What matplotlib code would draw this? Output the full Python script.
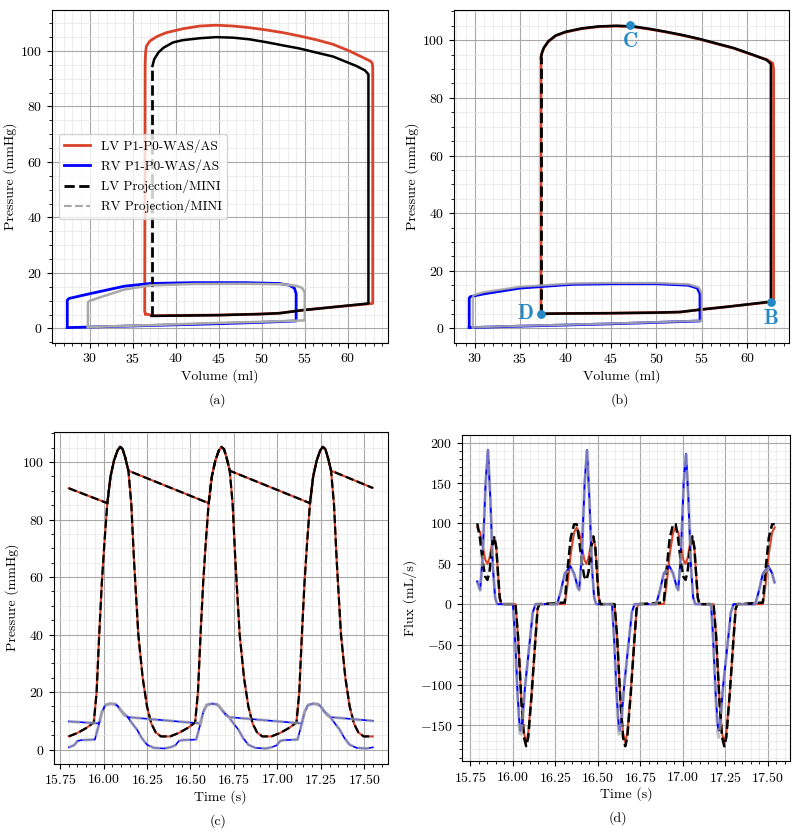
import matplotlib
matplotlib.use('Agg')
import matplotlib.pyplot as plt
from matplotlib.lines import Line2D
from matplotlib.ticker import AutoMinorLocator, MultipleLocator

plt.rcParams['font.family'] = 'serif'
plt.rcParams['font.serif'] = ['cmr10']
plt.rcParams['mathtext.fontset'] = 'cm'
plt.rcParams['axes.formatter.use_mathtext'] = True
plt.rcParams['font.size'] = 10

RED = '#d8432a'
BLUE = '#0000ff'
GRAY = '#a9a9a9'
MARK = '#2389c5'

# ---- (a) PV loops ------------------------------------------------------------
lv_p1_vol_a = [36.5, 37.5, 40.0, 45.0, 50.0, 52.1, 54.8, 58.0, 62.9, 62.9, 62.85, 62.7, 62.2, 60.2, 58.3,
               56.4, 54.4, 52.5, 50.5, 48.6, 46.7, 44.7, 42.8, 40.8, 38.9, 37.8, 37.0, 36.6, 36.5,
               36.45, 36.4, 36.5]
lv_p1_pres_a = [5.2, 4.6, 4.7, 4.8, 5.2, 5.5, 6.6, 7.6, 9.0, 94.0, 95.5, 96.2, 97.0, 100.0, 102.4,
                104.0, 105.4, 106.6, 107.6, 108.4, 109.0, 109.3, 109.0, 108.0, 106.6, 105.2, 103.6, 101.8, 99.5,
                95.0, 6.0, 5.2]
lv_mini_vol_a = [37.3, 37.3, 37.5, 38.0, 38.6, 39.7, 40.8, 42.8, 44.7, 46.7, 48.6, 50.5, 52.5, 54.4,
                 56.4, 58.3, 61.0, 62.0, 62.4, 62.4, 58.0, 54.8, 52.1, 50.0, 45.0, 40.0, 37.2]
lv_mini_pres_a = [4.5, 94.6, 97.0, 99.5, 101.2, 103.1, 103.9, 104.6, 105.0, 104.8, 104.2, 103.2, 102.0, 100.9,
                  99.4, 98.0, 94.6, 93.0, 91.6, 9.0, 7.6, 6.6, 5.5, 5.2, 4.8, 4.6, 4.5]
rv_p1_vol_a = [27.4, 30.0, 35.0, 40.0, 45.0, 50.0, 54.0, 54.0, 53.8, 53.2, 52.0, 48.0, 42.0, 37.0,
               34.0, 30.0, 27.6, 27.4, 27.4]
rv_p1_pres_a = [0.3, 0.5, 0.9, 1.3, 1.7, 2.2, 2.7, 12.5, 14.5, 15.6, 16.2, 16.5, 16.5, 16.2,
                15.2, 12.5, 10.8, 10.2, 0.3]
rv_mini_vol_a = [29.8, 35.0, 40.0, 45.0, 50.0, 55.0, 55.0, 54.7, 54.0, 52.5, 48.0, 42.0, 37.0, 34.0,
                 31.0, 29.9, 29.8, 29.8]
rv_mini_pres_a = [0.5, 1.0, 1.5, 2.0, 2.4, 2.9, 13.0, 14.6, 15.4, 15.9, 16.1, 16.0, 15.5, 14.0,
                  11.0, 9.8, 9.3, 0.5]

# ---- (b) PV loops ------------------------------------------------------------
lv_p1_vol_b = [37.3, 40.0, 45.0, 50.0, 52.6, 55.0, 58.0, 62.9, 62.9, 62.8, 62.2, 60.4, 58.5, 56.7,
               54.8, 53.0, 51.1, 49.3, 47.4, 45.6, 43.7, 41.8, 40.0, 38.9, 38.1, 37.6, 37.4, 37.3, 37.3]
lv_p1_pres_b = [5.1, 5.2, 5.3, 5.5, 5.7, 6.6, 7.6, 9.3, 90.0, 92.0, 93.2, 95.1, 97.2, 98.7,
                100.3, 101.6, 102.8, 103.8, 104.7, 104.9, 104.7, 104.0, 102.8, 101.5, 99.5, 97.2, 95.5, 94.0, 5.1]
lv_mini_vol_b = [37.3, 37.3, 37.4, 37.6, 38.1, 38.9, 40.0, 41.8, 43.7, 45.6, 47.4, 49.3, 51.1, 53.0,
                 54.8, 56.7, 58.5, 60.4, 62.1, 62.6, 62.6, 58.0, 55.0, 52.6, 50.0, 45.0, 40.0, 37.3]
lv_mini_pres_b = [5.1, 94.0, 95.6, 97.3, 99.6, 101.6, 102.9, 104.1, 104.8, 105.0, 104.8, 103.9, 102.9, 101.7,
                  100.4, 98.8, 97.3, 95.2, 93.2, 91.8, 9.3, 7.6, 6.6, 5.7, 5.5, 5.3, 5.2, 5.1]
rv_p1_vol_b = [29.4, 35.0, 40.0, 45.0, 50.0, 54.8, 54.8, 54.5, 53.5, 50.0, 45.0, 40.7, 35.0, 31.0,
               29.5, 29.4, 29.4]
rv_p1_pres_b = [0.3, 0.8, 1.2, 1.6, 2.1, 2.6, 12.0, 14.0, 15.0, 15.5, 15.5, 15.3, 14.0, 12.0,
                11.0, 10.5, 0.3]
rv_mini_vol_b = [29.8, 35.0, 40.0, 45.0, 50.0, 55.0, 55.0, 54.7, 53.6, 50.0, 45.0, 40.7, 35.0, 31.0,
                 29.9, 29.8, 29.8]
rv_mini_pres_b = [0.4, 0.9, 1.3, 1.7, 2.2, 2.7, 12.0, 14.2, 15.3, 15.8, 15.8, 15.6, 14.5, 12.6,
                  11.6, 11.0, 0.4]
point_labels = ['B', 'C', 'D']
point_vol = [62.6, 47.1, 37.3]
point_pres = [9.3, 105.2, 5.1]

# ---- (c) pressures over time --------------------------------------------------
t_lv_c = [15.800, 15.850, 15.900, 15.930, 15.944, 15.960, 15.975, 15.990, 16.005, 16.022, 16.040, 16.060,
          16.080, 16.095, 16.110, 16.125, 16.143, 16.160, 16.175, 16.200, 16.225, 16.250, 16.275, 16.300, 16.330,
          16.383, 16.433, 16.483, 16.513, 16.527, 16.543, 16.558, 16.573, 16.588, 16.605, 16.623, 16.643,
          16.663, 16.678, 16.693, 16.708, 16.726, 16.743, 16.758, 16.783, 16.808, 16.833, 16.858, 16.883, 16.913,
          16.966, 17.016, 17.066, 17.096, 17.110, 17.126, 17.141, 17.156, 17.171, 17.188, 17.206, 17.226,
          17.246, 17.261, 17.276, 17.291, 17.309, 17.326, 17.341, 17.366, 17.391, 17.416, 17.441, 17.466, 17.496,
          17.549]
p_lv_c = [4.6, 5.8, 7.5, 8.8, 9.5, 20, 40, 58, 72, 86, 95, 100.5,
          104, 105.3, 104.5, 101.5, 97, 85, 66, 40, 25, 15, 9, 6, 4.6,
          4.6, 5.8, 7.5, 8.8, 9.5, 20, 40, 58, 72, 86, 95, 100.5,
          104, 105.3, 104.5, 101.5, 97, 85, 66, 40, 25, 15, 9, 6, 4.6,
          4.6, 5.8, 7.5, 8.8, 9.5, 20, 40, 58, 72, 86, 95, 100.5,
          104, 105.3, 104.5, 101.5, 97, 85, 66, 40, 25, 15, 9, 6, 4.6,
          4.6]
t_ao_c = [15.800, 16.022, 16.040, 16.060, 16.080, 16.095, 16.110, 16.125, 16.143,
          16.605, 16.623, 16.643, 16.663, 16.678, 16.693, 16.708, 16.726,
          17.188, 17.206, 17.226, 17.246, 17.261, 17.276, 17.291, 17.309, 17.549]
p_ao_c = [90.9, 85.7, 95, 100.5, 104, 105.3, 104.5, 101.5, 97,
          85.7, 95, 100.5, 104, 105.3, 104.5, 101.5, 97,
          85.7, 95, 100.5, 104, 105.3, 104.5, 101.5, 97, 91.0]
t_rv_c = [15.800, 15.830, 15.850, 15.870, 15.950, 15.970, 15.990, 16.010, 16.040, 16.070, 16.090, 16.110,
          16.135, 16.160, 16.193, 16.220, 16.250, 16.290, 16.350,
          16.383, 16.413, 16.433, 16.453, 16.533, 16.553, 16.573, 16.593, 16.623, 16.653, 16.673, 16.693,
          16.718, 16.743, 16.776, 16.803, 16.833, 16.873, 16.933,
          16.966, 16.996, 17.016, 17.036, 17.116, 17.136, 17.156, 17.176, 17.206, 17.236, 17.256, 17.276,
          17.301, 17.326, 17.359, 17.386, 17.416, 17.456, 17.516, 17.549]
p_rv_c = [0.8, 1.5, 3.0, 3.3, 3.5, 8, 13, 15.5, 16, 15.8, 14.5, 13,
          11.6, 9.5, 6.9, 4, 1.7, 0.6, 0.4,
          0.8, 1.5, 3.0, 3.3, 3.5, 8, 13, 15.5, 16, 15.8, 14.5, 13,
          11.6, 9.5, 6.9, 4, 1.7, 0.6, 0.4,
          0.8, 1.5, 3.0, 3.3, 3.5, 8, 13, 15.5, 16, 15.8, 14.5, 13,
          11.6, 9.5, 6.9, 4, 1.7, 0.6, 0.4, 0.8]
t_pa_c = [15.800, 15.975, 15.990, 16.010, 16.040, 16.060, 16.080, 16.100, 16.120, 16.140,
          16.558, 16.573, 16.593, 16.623, 16.643, 16.663, 16.683, 16.703, 16.723,
          17.141, 17.156, 17.176, 17.206, 17.226, 17.246, 17.266, 17.286, 17.306, 17.549]
p_pa_c = [9.8, 9.1, 13, 15.5, 16, 15.8, 15.3, 13.5, 12, 11.3,
          9.1, 13, 15.5, 16, 15.8, 15.3, 13.5, 12, 11.3,
          9.1, 13, 15.5, 16, 15.8, 15.3, 13.5, 12, 11.3, 10.0]

# ---- (d) flux over time -------------------------------------------------------
t_lv_d = [15.790, 15.807, 15.822, 15.837, 15.850, 15.862, 15.877, 15.890, 15.902, 15.912, 15.922, 15.932,
          16.015, 16.030, 16.050, 16.065, 16.078, 16.090, 16.110, 16.130, 16.145, 16.155,
          16.305, 16.320, 16.340, 16.360, 16.375, 16.390, 16.405, 16.420, 16.433, 16.445, 16.460, 16.473,
          16.485, 16.495, 16.505, 16.515, 16.598, 16.613, 16.633, 16.648, 16.661, 16.673, 16.693, 16.713,
          16.728, 16.738,
          16.888, 16.903, 16.923, 16.943, 16.958, 16.973, 16.988, 17.003, 17.016, 17.028, 17.043, 17.056,
          17.068, 17.078, 17.088, 17.098, 17.181, 17.196, 17.216, 17.231, 17.244, 17.256, 17.276, 17.296,
          17.311, 17.321,
          17.471, 17.486, 17.506, 17.526, 17.541]
q_lv_p1 = [95, 89, 72, 55, 50, 57, 76, 83, 70, 38, 8, 0,
           0, -40, -120, -160, -171, -160, -110, -50, -6, 0,
           0, 22, 62, 89, 95, 89, 72, 55, 50, 57, 76, 83,
           70, 38, 8, 0, 0, -40, -120, -160, -171, -160, -110, -50,
           -6, 0,
           0, 22, 62, 89, 95, 89, 72, 55, 50, 57, 76, 83,
           70, 38, 8, 0, 0, -40, -120, -160, -171, -160, -110, -50,
           -6, 0,
           0, 22, 62, 89, 95]
q_lv_mini = [100, 80, 52, 34, 30, 40, 70, 84, 70, 38, 8, 0,
             0, -40, -122, -165, -176, -165, -112, -50, -6, 0,
             2, 40, 82, 99, 99, 80, 52, 34, 30, 40, 70, 84,
             70, 38, 8, 0, 0, -40, -122, -165, -176, -165, -112, -50,
             -6, 0,
             2, 40, 82, 99, 99, 80, 52, 34, 30, 40, 70, 84,
             70, 38, 8, 0, 0, -40, -122, -165, -176, -165, -112, -50,
             -6, 0,
             2, 40, 82, 99, 99]
t_rv_d = [15.790, 15.807, 15.822, 15.839, 15.853, 15.867, 15.882, 15.895, 15.907, 16.000, 16.012, 16.027,
          16.039, 16.045, 16.055, 16.072, 16.097, 16.117, 16.133,
          16.260, 16.280, 16.305, 16.338, 16.360, 16.380, 16.390, 16.405, 16.422, 16.436, 16.450, 16.465,
          16.478, 16.490, 16.583, 16.595, 16.610, 16.622, 16.628, 16.638, 16.655, 16.680, 16.700, 16.716,
          16.843, 16.863, 16.888, 16.921, 16.943, 16.963, 16.973, 16.988, 17.005, 17.019, 17.033, 17.048,
          17.061, 17.073, 17.166, 17.178, 17.193, 17.205, 17.211, 17.221, 17.238, 17.263, 17.283, 17.299,
          17.426, 17.446, 17.471, 17.504, 17.526, 17.540]
q_rv_p1 = [28, 18, 60, 150, 191, 130, 45, 8, 0, 0, -40, -110,
           -150, -157, -145, -100, -50, -10, 0,
           0, 15, 38, 47, 38, 22, 18, 60, 150, 191, 130, 45,
           8, 0, 0, -40, -110, -150, -157, -145, -100, -50, -10, 0,
           0, 15, 38, 47, 38, 22, 18, 60, 150, 186, 130, 45,
           8, 0, 0, -40, -110, -150, -157, -145, -100, -50, -10, 0,
           0, 15, 38, 47, 38, 27]
q_rv_mini = [27, 17, 58, 148, 190, 132, 47, 9, 0, 0, -42, -115,
             -158, -165, -150, -102, -50, -10, 0,
             0, 14, 37, 45, 37, 21, 17, 58, 148, 190, 132, 47,
             9, 0, 0, -42, -115, -158, -165, -150, -102, -50, -10, 0,
             0, 14, 37, 45, 37, 21, 17, 58, 148, 188, 132, 47,
             9, 0, 0, -42, -115, -158, -165, -150, -102, -50, -10, 0,
             0, 14, 37, 45, 37, 26]


def style(ax):
    ax.xaxis.set_minor_locator(AutoMinorLocator())
    ax.yaxis.set_minor_locator(AutoMinorLocator())
    ax.grid(which='major', color='#a8a8a8', lw=0.8)
    ax.grid(which='minor', color='#e6e6e6', lw=0.5)
    ax.set_axisbelow(True)


fig = plt.figure(figsize=(8, 8.4), dpi=100)
ax_a = fig.add_axes([0.065, 0.592, 0.42, 0.396])
ax_b = fig.add_axes([0.5675, 0.592, 0.4185, 0.396])
ax_c = fig.add_axes([0.067, 0.091, 0.418, 0.395])
ax_d = fig.add_axes([0.578, 0.094, 0.409, 0.388])

# (a) - isovolumic relaxation of the projection is the only part that shows dashes
ax_a.plot(lv_p1_vol_a, lv_p1_pres_a, color=RED, lw=2)
ax_a.plot(rv_p1_vol_a, rv_p1_pres_a, color=BLUE, lw=2)
ax_a.plot(lv_mini_vol_a[1:], lv_mini_pres_a[1:], color='black', lw=1.8)
ax_a.plot(lv_mini_vol_a[:2], lv_mini_pres_a[:2], color='black', lw=2, ls='--')
ax_a.plot(rv_mini_vol_a, rv_mini_pres_a, color=GRAY, lw=1.8)
handles = [Line2D([], [], color=RED, lw=2), Line2D([], [], color=BLUE, lw=2),
           Line2D([], [], color='black', lw=2, ls='--'), Line2D([], [], color=GRAY, lw=1.5, ls='--')]
ax_a.legend(handles, ['LV P1-P0-WAS/AS', 'RV P1-P0-WAS/AS', 'LV Projection/MINI', 'RV Projection/MINI'],
            loc='center left', fontsize=9.5)
ax_a.set_xlabel('Volume (ml)', labelpad=2)
ax_a.set_ylabel('Pressure (mmHg)', labelpad=2)
style(ax_a)

# (b)
ax_b.plot(lv_p1_vol_b, lv_p1_pres_b, color=RED, lw=2)
ax_b.plot(rv_p1_vol_b, rv_p1_pres_b, color=BLUE, lw=2)
ax_b.plot(lv_mini_vol_b[1:], lv_mini_pres_b[1:], color='black', lw=1.8)
ax_b.plot(lv_mini_vol_b[:2], lv_mini_pres_b[:2], color='black', lw=2, ls='--')
ax_b.plot(rv_mini_vol_b, rv_mini_pres_b, color=GRAY, lw=1.6, alpha=0.9)
ax_b.scatter(point_vol, point_pres, s=28, color=MARK, zorder=5)
offsets = {'B': (0, -12), 'C': (0, -12), 'D': (-5, 0)}
for lab, v, p in zip(point_labels, point_vol, point_pres):
    dx, dy = offsets[lab]
    ax_b.annotate(r'$\mathbf{%s}$' % lab, (v, p), xytext=(dx, dy), textcoords='offset points',
                  ha='center' if dx == 0 else 'right', va='center', fontsize=15, color=MARK)
ax_b.set_xlabel('Volume (ml)', labelpad=2)
ax_b.set_ylabel('Pressure (mmHg)', labelpad=2)
style(ax_b)

# (c)
ax_c.plot(t_lv_c, p_lv_c, color=RED, lw=1.5)
ax_c.plot(t_ao_c, p_ao_c, color=RED, lw=1.5)
ax_c.plot(t_rv_c, p_rv_c, color=BLUE, lw=1.2)
ax_c.plot(t_pa_c, p_pa_c, color=BLUE, lw=1.2)
ax_c.plot(t_lv_c, p_lv_c, color='black', lw=1.6, ls='--')
ax_c.plot(t_ao_c, p_ao_c, color='black', lw=1.6, ls='--')
ax_c.plot(t_rv_c, p_rv_c, color=GRAY, lw=2.2, ls='--', alpha=0.7)
ax_c.plot(t_pa_c, p_pa_c, color=GRAY, lw=2.2, ls='--', alpha=0.7)
ax_c.set_xlabel('Time (s)', labelpad=2)
ax_c.set_ylabel('Pressure (mmHg)', labelpad=2)
style(ax_c)
ax_c.xaxis.set_major_locator(MultipleLocator(0.25))

# (d)
ax_d.plot(t_lv_d, q_lv_p1, color=RED, lw=1.5)
ax_d.plot(t_rv_d, q_rv_p1, color=BLUE, lw=1.5)
ax_d.plot(t_lv_d, q_lv_mini, color='black', lw=1.8, ls='--')
ax_d.plot(t_rv_d, q_rv_mini, color=GRAY, lw=2.2, ls='--', alpha=0.7)
ax_d.set_xlabel('Time (s)', labelpad=2)
ax_d.set_ylabel('Flux (mL/s)', labelpad=2)
style(ax_d)
ax_d.xaxis.set_major_locator(MultipleLocator(0.25))

fig.text(0.272, 0.524, '(a)', ha='center', va='center')
fig.text(0.775, 0.524, '(b)', ha='center', va='center')
fig.text(0.272, 0.022, '(c)', ha='center', va='center')
fig.text(0.773, 0.026, '(d)', ha='center', va='center')

fig.savefig('out.png', dpi=100)
